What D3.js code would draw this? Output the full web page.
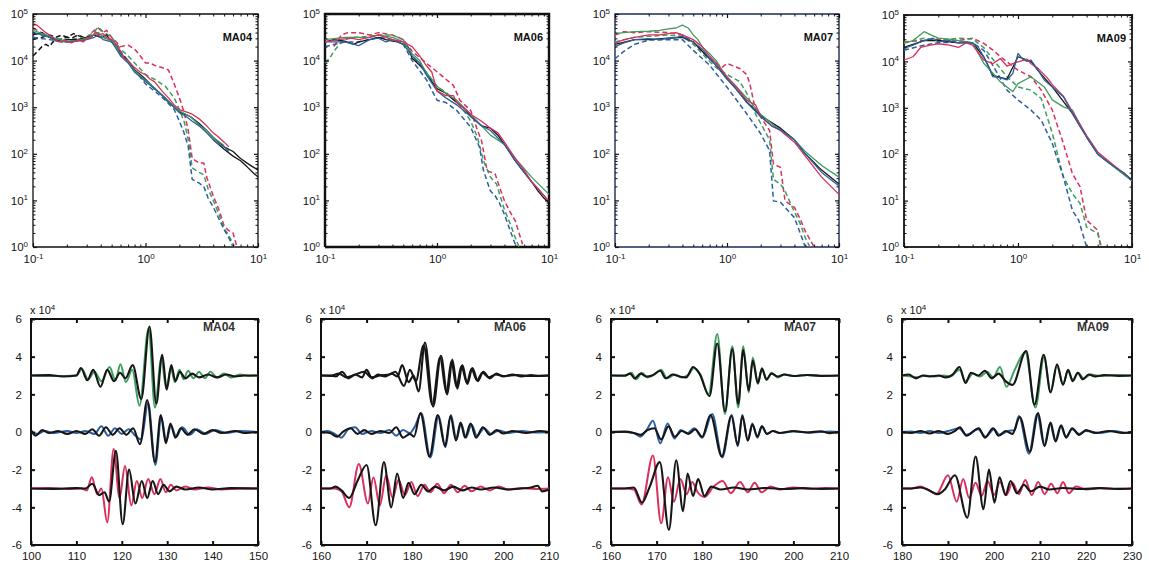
<!DOCTYPE html>
<html><head><meta charset="utf-8">
<script src="https://cdn.jsdelivr.net/npm/d3@7"></script>
<style>
body{margin:0;background:#fff}
svg{display:block}
</style>
</head><body>
<svg id="c" width="1149" height="569"></svg>
<script>
// ---------------- DATA ----------------
const stations = ["MA04", "MA06", "MA07", "MA09"];
// spectra: [frequency (Hz), log10 amplitude]
const s04BlackSolid = [[0.1,4.55],[0.12,4.6],[0.14,4.5],[0.16,4.45],[0.18,4.4],[0.2,4.45],[0.25,4.45],[0.3,4.5],[0.35,4.55],[0.4,4.5],[0.45,4.55],[0.5,4.4],[0.55,4.3],[0.6,4.15],[0.7,4.0],[0.8,3.8],[0.9,3.7],[1.0,3.6],[1.2,3.4],[1.5,3.2],[1.8,3.0],[2.0,2.9],[2.5,2.8],[3.0,2.65],[3.5,2.5],[4.0,2.35],[5.0,2.15],[6.0,2.05],[7.0,1.9],[8.0,1.8],[9.0,1.72],[10,1.65]];
const s04BlackSolid2 = [[4.0,2.3],[5.0,2.1],[6.0,1.95],[7.0,1.85],[8.0,1.72],[9.0,1.6],[10,1.5]];
const s04RedSolid = [[0.1,4.8],[0.11,4.75],[0.13,4.6],[0.15,4.5],[0.17,4.4],[0.2,4.42],[0.22,4.38],[0.25,4.45],[0.28,4.4],[0.3,4.48],[0.33,4.5],[0.36,4.62],[0.38,4.55],[0.42,4.58],[0.45,4.5],[0.5,4.45],[0.55,4.35],[0.6,4.2],[0.65,4.05],[0.7,4.0],[0.8,3.85],[0.9,3.75],[1.0,3.7],[1.1,3.6],[1.2,3.55],[1.4,3.35],[1.6,3.2],[1.8,3.05],[2.0,2.95],[2.3,2.9],[2.6,2.85],[3.0,2.75],[3.5,2.6],[4.0,2.45],[4.5,2.35],[5.0,2.25],[5.5,2.15]];
const s04BlueSolid = [[0.1,4.6],[0.12,4.55],[0.14,4.5],[0.16,4.42],[0.2,4.4],[0.25,4.42],[0.3,4.45],[0.35,4.5],[0.38,4.55],[0.42,4.45],[0.5,4.4],[0.55,4.25],[0.6,4.1],[0.7,3.95],[0.8,3.75],[0.9,3.65],[1.0,3.55],[1.2,3.4],[1.4,3.25],[1.6,3.1],[1.8,3.0],[2.0,2.88],[2.3,2.8],[2.6,2.7],[3.0,2.6],[3.5,2.45],[4.0,2.3],[4.5,2.2],[5.0,2.15],[5.5,2.05]];
const s04GreenSolid = [[0.1,4.65],[0.13,4.55],[0.17,4.45],[0.2,4.42],[0.25,4.43],[0.3,4.48],[0.35,4.55],[0.38,4.6],[0.42,4.5],[0.5,4.42],[0.55,4.3],[0.6,4.12],[0.7,3.98],[0.8,3.78],[1.0,3.58],[1.2,3.42],[1.5,3.2],[1.8,3.02],[2.0,2.92],[2.5,2.8],[3.0,2.62],[3.5,2.5],[4.0,2.35],[5.0,2.18]];
const s04RedDash = [[0.1,4.7],[0.13,4.55],[0.17,4.42],[0.2,4.45],[0.25,4.45],[0.3,4.5],[0.35,4.65],[0.38,4.7],[0.42,4.6],[0.45,4.65],[0.5,4.5],[0.55,4.4],[0.6,4.3],[0.7,4.33],[0.8,4.25],[0.9,4.1],[1.0,3.95],[1.1,3.95],[1.2,3.9],[1.4,3.85],[1.6,3.8],[1.8,3.5],[2.0,3.2],[2.2,2.9],[2.4,2.5],[2.6,1.9],[2.8,1.85],[3.0,1.8],[3.3,1.8],[3.5,1.5],[4.0,1.1],[4.5,0.8],[5.0,0.45],[5.5,0.35],[6.0,0.3],[6.5,0.0]];
const s04GreenDash = [[0.1,4.6],[0.14,4.5],[0.2,4.45],[0.3,4.5],[0.35,4.62],[0.38,4.72],[0.42,4.62],[0.5,4.5],[0.6,4.25],[0.7,4.1],[0.8,3.95],[1.0,3.7],[1.2,3.6],[1.5,3.45],[1.8,3.2],[2.0,2.95],[2.2,2.7],[2.4,2.3],[2.6,1.7],[3.0,1.6],[3.3,1.55],[3.6,1.25],[4.0,1.0],[4.5,0.7],[5.0,0.4],[5.5,0.25],[6.2,0.0]];
const s04BlueDash = [[0.1,4.5],[0.14,4.45],[0.2,4.4],[0.3,4.45],[0.35,4.55],[0.38,4.6],[0.42,4.5],[0.5,4.45],[0.6,4.2],[0.7,4.0],[0.8,3.8],[1.0,3.5],[1.2,3.35],[1.5,3.15],[1.8,2.95],[2.0,2.7],[2.2,2.45],[2.4,2.15],[2.6,1.45],[3.0,1.37],[3.3,1.3],[3.6,1.05],[4.0,0.86],[4.5,0.6],[5.0,0.37],[5.5,0.2],[6.0,0.0]];
const s04BlackDash = [[0.1,4.1],[0.11,4.2],[0.12,4.3],[0.13,4.35],[0.14,4.3],[0.15,4.4],[0.17,4.45],[0.2,4.5],[0.22,4.48],[0.25,4.55],[0.28,4.5]];
const s04BlackDash2 = [[0.1,4.45],[0.12,4.5],[0.14,4.55],[0.16,4.5],[0.18,4.55],[0.2,4.5],[0.23,4.58],[0.26,4.52]];

const s06BlackSolid = [[0.1,4.4],[0.12,4.45],[0.15,4.42],[0.18,4.35],[0.2,4.4],[0.25,4.45],[0.3,4.5],[0.35,4.45],[0.4,4.42],[0.45,4.4],[0.5,4.35],[0.55,4.3],[0.6,4.05],[0.7,3.9],[0.8,3.75],[0.9,3.55],[1.0,3.4],[1.2,3.3],[1.5,3.1],[1.8,2.95],[2.0,2.8],[2.5,2.6],[3.0,2.55],[3.5,2.4],[4.0,2.2],[5.0,1.85],[6.0,1.6],[7.0,1.4],[8.0,1.2],[9.0,1.05],[10,0.95]];
const s06RedSolid = [[0.1,4.4],[0.13,4.45],[0.17,4.48],[0.2,4.45],[0.25,4.5],[0.3,4.55],[0.35,4.5],[0.4,4.45],[0.5,4.4],[0.6,4.3],[0.7,4.1],[0.8,3.9],[0.9,3.75],[1.0,3.35],[1.2,3.25],[1.4,3.25],[1.5,3.1],[1.8,2.95],[2.0,2.85],[2.5,2.7],[3.0,2.55],[3.5,2.45],[4.0,2.25],[5.0,1.9],[6.0,1.65],[7.0,1.4],[8.0,1.25],[10,0.98]];
const s06BlueSolid = [[0.1,4.4],[0.15,4.4],[0.2,4.32],[0.25,4.45],[0.3,4.48],[0.35,4.4],[0.4,4.45],[0.5,4.35],[0.6,4.1],[0.7,3.95],[0.8,3.7],[1.0,3.35],[1.2,3.2],[1.5,3.05],[2.0,2.8],[2.5,2.6],[3.0,2.5],[4.0,2.2],[5.0,1.85],[7.0,1.4],[10,0.98]];
const s06GreenSolid = [[0.1,4.45],[0.15,4.5],[0.2,4.5],[0.25,4.5],[0.3,4.55],[0.4,4.5],[0.5,4.4],[0.6,4.15],[0.7,4.0],[0.8,3.75],[1.0,3.45],[1.2,3.3],[1.5,3.15],[2.0,2.85],[2.5,2.6],[3.0,2.4],[4.0,2.2],[5.0,1.9],[7.0,1.5],[10,1.13]];
const s06RedDash = [[0.12,4.3],[0.14,4.55],[0.16,4.6],[0.2,4.6],[0.25,4.55],[0.3,4.6],[0.4,4.55],[0.5,4.45],[0.6,4.2],[0.8,3.95],[1.0,3.76],[1.2,3.6],[1.4,3.47],[1.6,3.15],[2.0,2.93],[2.3,2.5],[2.5,2.28],[2.8,1.64],[3.3,1.57],[3.6,1.3],[4.0,0.99],[4.5,0.75],[5.0,0.56],[5.8,0.06]];
const s06GreenDash = [[0.1,3.95],[0.11,4.05],[0.12,4.2],[0.14,4.4],[0.17,4.5],[0.2,4.5],[0.3,4.55],[0.4,4.55],[0.5,4.45],[0.6,4.1],[0.8,3.75],[1.0,3.45],[1.3,3.25],[1.6,3.05],[2.0,2.7],[2.3,2.35],[2.6,1.85],[3.0,1.5],[3.4,1.35],[4.0,0.8],[4.5,0.5],[5.0,0.2],[5.4,0.0]];
const s06BlueDash = [[0.1,4.3],[0.15,4.4],[0.2,4.4],[0.3,4.5],[0.4,4.45],[0.5,4.35],[0.6,4.0],[0.8,3.6],[1.0,3.15],[1.2,3.1],[1.5,2.93],[2.0,2.57],[2.4,2.14],[2.6,1.64],[3.0,1.2],[3.3,1.1],[3.6,0.95],[4.0,0.7],[4.5,0.35],[5.0,0.06]];

const s07BlackSolid = [[0.1,4.35],[0.15,4.45],[0.2,4.45],[0.3,4.48],[0.4,4.5],[0.5,4.4],[0.6,4.2],[0.8,3.9],[1.0,3.62],[1.5,3.12],[2.0,2.82],[3.0,2.55],[4.0,2.3],[5.0,2.0],[7.0,1.65],[10,1.35]];
const s07RedSolid = [[0.1,4.37],[0.12,4.45],[0.15,4.5],[0.2,4.55],[0.25,4.55],[0.3,4.58],[0.35,4.6],[0.4,4.55],[0.5,4.45],[0.6,4.3],[0.7,4.1],[0.8,3.95],[1.0,3.65],[1.2,3.45],[1.5,3.15],[1.8,3.05],[2.0,2.8],[2.5,2.6],[3.0,2.5],[4.0,2.25],[5.0,1.95],[7.0,1.5],[10,1.13]];
const s07BlueSolid = [[0.1,4.3],[0.12,4.38],[0.15,4.45],[0.2,4.47],[0.25,4.45],[0.3,4.48],[0.35,4.5],[0.4,4.52],[0.5,4.4],[0.6,4.25],[0.7,4.05],[0.8,3.9],[1.0,3.6],[1.2,3.4],[1.5,3.1],[2.0,2.8],[2.5,2.6],[3.0,2.52],[4.0,2.3],[5.0,2.0],[7.0,1.6],[10,1.31]];
const s07GreenSolid = [[0.1,4.58],[0.12,4.6],[0.15,4.62],[0.2,4.63],[0.25,4.65],[0.3,4.68],[0.35,4.7],[0.4,4.76],[0.45,4.7],[0.5,4.55],[0.55,4.45],[0.6,4.3],[0.7,4.15],[0.8,4.0],[0.9,3.8],[1.0,3.65],[1.2,3.45],[1.5,3.2],[2.0,2.85],[2.5,2.65],[3.0,2.5],[4.0,2.3],[5.0,2.05],[7.0,1.75],[10,1.5]];
const s07RedDash = [[0.1,4.55],[0.12,4.62],[0.15,4.6],[0.2,4.62],[0.3,4.6],[0.4,4.55],[0.5,4.4],[0.6,4.2],[0.7,4.04],[0.8,3.95],[0.9,3.85],[1.0,3.94],[1.3,3.83],[1.5,3.7],[1.6,3.5],[1.8,2.93],[2.0,2.79],[2.4,2.5],[2.6,1.78],[3.0,1.71],[3.3,0.99],[4.0,0.85],[4.5,0.6],[5.0,0.34],[6.0,0.0]];
const s07GreenDash = [[0.1,4.4],[0.15,4.5],[0.2,4.52],[0.3,4.55],[0.4,4.52],[0.5,4.35],[0.6,4.15],[0.7,3.98],[0.8,3.85],[1.0,3.7],[1.3,3.55],[1.5,3.3],[1.8,2.85],[2.0,2.65],[2.4,2.3],[2.6,1.45],[3.0,1.35],[3.3,1.2],[4.0,0.75],[4.5,0.5],[5.0,0.2],[5.5,0.0]];
const s07BlueDash = [[0.1,4.04],[0.12,4.2],[0.15,4.35],[0.2,4.44],[0.3,4.45],[0.4,4.45],[0.5,4.22],[0.7,3.9],[1.0,3.43],[1.5,2.86],[2.0,2.43],[2.4,2.07],[2.6,0.99],[3.0,0.96],[3.3,0.85],[4.0,0.63],[4.5,0.3],[5.0,0.0]];

const s09BlackSolid = [[0.1,4.3],[0.15,4.45],[0.2,4.45],[0.3,4.4],[0.4,4.4],[0.5,4.1],[0.6,3.7],[0.8,3.62],[1.0,4.1],[1.3,4.0],[1.5,3.8],[2.0,3.45],[3.0,2.88],[4.0,2.37],[5.0,2.0],[7.0,1.73],[10,1.44]];
const s09RedSolid = [[0.1,4.03],[0.12,4.1],[0.14,4.3],[0.17,4.35],[0.2,4.38],[0.25,4.35],[0.3,4.3],[0.35,4.4],[0.4,4.35],[0.5,4.03],[0.6,3.95],[0.7,4.06],[0.8,3.9],[0.9,3.95],[1.0,3.99],[1.2,4.05],[1.3,3.95],[1.5,3.85],[1.8,3.65],[2.0,3.5],[2.5,3.25],[3.0,2.92],[4.0,2.4],[5.0,2.05],[7.0,1.75],[10,1.45]];
const s09BlueSolid = [[0.1,4.28],[0.12,4.35],[0.15,4.45],[0.18,4.5],[0.2,4.42],[0.25,4.45],[0.3,4.4],[0.35,4.42],[0.4,4.4],[0.45,4.3],[0.5,4.1],[0.55,3.9],[0.6,3.67],[0.7,3.65],[0.8,3.6],[0.9,3.74],[1.0,4.17],[1.1,4.05],[1.2,4.0],[1.3,4.03],[1.5,3.81],[1.7,3.6],[2.0,3.45],[2.5,3.24],[3.0,2.88],[3.5,2.6],[4.0,2.37],[5.0,2.01],[6.0,1.85],[7.0,1.73],[8.5,1.6],[10,1.44]];
const s09GreenSolid = [[0.1,4.39],[0.12,4.45],[0.15,4.64],[0.18,4.55],[0.2,4.5],[0.25,4.48],[0.3,4.45],[0.4,4.4],[0.5,3.96],[0.6,3.75],[0.7,3.56],[0.8,3.45],[0.9,3.35],[1.0,3.52],[1.3,3.67],[1.5,3.55],[1.7,3.45],[2.0,3.17],[2.5,3.02],[3.0,2.95],[4.0,2.37],[5.0,2.0],[7.0,1.72],[10,1.42]];
const s09RedDash = [[0.1,4.42],[0.15,4.45],[0.2,4.48],[0.3,4.45],[0.4,4.5],[0.5,4.39],[0.6,4.25],[0.7,4.1],[1.0,3.81],[1.3,3.67],[1.6,3.38],[2.0,2.95],[2.5,2.23],[3.0,1.58],[3.5,1.3],[4.0,0.58],[5.0,0.36],[5.3,0.0]];
const s09GreenDash = [[0.1,4.4],[0.15,4.5],[0.2,4.45],[0.3,4.5],[0.4,4.48],[0.5,4.3],[0.6,4.05],[0.8,3.67],[1.0,3.45],[1.3,3.38],[1.6,3.2],[2.0,2.45],[2.5,1.51],[3.0,1.15],[3.5,0.94],[4.0,0.43],[5.0,0.29],[5.4,0.0]];
const s09BlueDash = [[0.1,4.24],[0.15,4.35],[0.2,4.4],[0.3,4.42],[0.4,4.4],[0.5,4.24],[0.6,3.92],[0.8,3.38],[1.0,3.17],[1.3,2.95],[1.6,2.73],[2.0,2.23],[2.5,1.51],[3.0,0.79],[3.4,0.58],[4.0,0.0]];

// waveforms: [time (s), displacement x 10^4]
const w04TopGreen = [[100,3.0],[105,2.97],[110,3.0],[111.2,3.35],[112.6,2.8],[114,3.2],[115.5,2.7],[117.3,3.45],[118.6,2.75],[119.7,3.6],[120.9,2.65],[122.3,3.3],[123.9,1.4],[125.9,5.5],[127.3,1.3],[128.7,3.9],[129.8,2.3],[130.8,3.4],[131.7,2.65],[132.7,3.3],[133.6,2.8],[134.6,3.25],[135.8,2.85],[137,3.2],[138.3,2.85],[139.5,3.2],[141,2.9],[142.5,3.1],[144,2.9],[146,3.05],[148,2.98],[150,3.0]];
const w04TopBlack = [[100,3.0],[104,3.02],[107,2.95],[110,3.0],[111,3.4],[112.4,2.75],[113.7,3.3],[115.3,2.4],[116.8,3.3],[118.3,2.7],[119.6,3.15],[120.8,2.85],[122.4,3.55],[124.3,1.75],[126.1,5.6],[127.6,1.5],[128.9,4.1],[129.9,2.25],[130.9,3.55],[131.8,2.7],[132.8,3.2],[134,2.85],[135.5,3.1],[137,2.9],[139,3.05],[141,2.9],[143,3.05],[145,2.95],[147,3.0],[150,3.0]];
const w04MidBlue = [[100,0],[101.5,-0.1],[103,0.05],[105,-0.05],[108,0.05],[110,-0.05],[112,0.05],[114,-0.1],[115.5,0.3],[117,-0.2],[118.5,0.2],[120,-0.1],[121.5,0.15],[123,-0.2],[124.3,-0.4],[125.8,1.55],[127.4,-1.75],[128.7,0.8],[129.8,-0.5],[130.8,0.35],[132,-0.25],[133.3,0.25],[135,-0.15],[136.5,0.15],[138.5,-0.1],[140.5,0.1],[143,-0.05],[146,0.05],[150,0]];
const w04MidBlack = [[100,0.1],[101,-0.2],[102.5,0.1],[104,-0.05],[106,0.05],[108,-0.1],[110,0.05],[112,-0.1],[113.5,0.15],[115,-0.2],[116.5,0.25],[118,-0.15],[119.5,0.2],[121,-0.15],[122.5,0.2],[124,-0.65],[125.6,1.7],[127.3,-1.6],[128.6,0.9],[129.7,-0.6],[130.7,0.45],[131.8,-0.3],[133,0.2],[134.5,-0.15],[136,0.15],[138,-0.1],[140,0.1],[142,-0.05],[145,0.05],[147,-0.05],[150,0]];
const w04BotRed = [[100,-3.0],[104,-2.98],[108,-3.02],[111,-3.0],[112.3,-3.1],[113.4,-2.4],[114.6,-3.3],[115.5,-3.0],[116.8,-4.8],[118.2,-0.9],[119.5,-3.5],[120.7,-1.8],[122.1,-3.9],[123.3,-2.6],[124.5,-3.5],[125.8,-2.5],[127.2,-3.3],[128.5,-2.5],[129.7,-3.2],[130.8,-2.8],[132,-3.1],[134,-2.9],[136,-3.05],[139,-2.95],[142,-3.05],[146,-3.0],[150,-3.0]];
const w04BotBlack = [[100,-3.0],[105,-3.02],[110,-2.98],[112,-3.0],[113.5,-2.75],[115,-3.35],[116.2,-3.2],[117.2,-3.7],[118.7,-1.0],[120.2,-4.9],[121.6,-2.0],[123,-3.8],[124.4,-2.6],[125.6,-3.5],[126.8,-2.6],[128,-3.3],[129.2,-2.8],[130.5,-3.15],[132,-2.9],[134,-3.05],[137,-2.95],[140,-3.05],[144,-2.98],[150,-3.0]];

const w06TopBlackB = [[160,3.0],[162,2.98],[164,3.1],[165.5,2.9],[167,3.0],[169.5,3.2],[171,2.9],[173,3.0],[175,3.05],[176.3,3.2],[178.2,2.45],[179.5,3.3],[180.8,2.7],[182.5,4.6],[184.4,1.45],[186.1,3.95],[187.5,2.1],[188.6,3.75],[189.7,2.4],[190.8,3.5],[192,2.6],[193,3.35],[194.2,2.75],[195.4,3.15],[196.8,2.9],[198.3,3.05],[200,2.97],[203,3.03],[206,2.97],[210,3.0]];
const w06TopBlack = [[160,3.0],[162,3.0],[163.3,2.95],[164.6,3.2],[166,2.85],[167.5,3.05],[169,2.9],[170,3.3],[171.2,2.85],[172.5,3.05],[174,2.95],[175.5,3.1],[176.8,2.95],[177.8,3.55],[179.2,2.65],[180.3,3.0],[181.4,2.15],[182.8,4.75],[184.6,1.35],[186.3,4.05],[187.7,2.0],[188.8,3.85],[189.9,2.3],[191,3.55],[192.1,2.55],[193.2,3.4],[194.4,2.7],[195.6,3.2],[197,2.85],[198.5,3.1],[200,2.95],[202,3.05],[204,2.95],[206,3.02],[208,2.98],[210,3.0]];
const w06MidBlue = [[160,0],[161.5,0.05],[163,-0.1],[164.5,-0.3],[166,0.15],[167.5,0.25],[169,-0.1],[171,0.05],[173,-0.05],[175,0.1],[176.5,-0.2],[178,0.1],[179.5,-0.05],[180.6,0.3],[182,1.0],[184,-1.35],[185.8,0.85],[187.3,-0.8],[188.5,0.9],[189.7,-0.4],[190.7,0.45],[191.8,-0.3],[193,0.4],[194.2,-0.2],[195.8,0.2],[197.3,-0.1],[199,0.08],[201,-0.05],[204,0.05],[207,-0.03],[210,0]];
const w06MidBlack = [[160,0],[162,-0.05],[163.5,-0.25],[165,0.05],[166.5,0.2],[168,-0.1],[169.5,0.1],[171,-0.1],[173,0.05],[175,-0.05],[176.5,0.25],[178,-0.3],[179.5,-0.1],[180.4,-0.25],[181.8,1.0],[183.8,-1.3],[185.6,0.9],[187.2,-0.75],[188.4,0.85],[189.6,-0.45],[190.6,0.5],[191.6,-0.3],[192.8,0.45],[194,-0.3],[195.5,0.25],[197,-0.15],[198.5,0.1],[200,-0.08],[202,0.05],[205,-0.05],[208,0.05],[210,0]];
const w06BotRed = [[160,-3.0],[163,-3.0],[164.5,-3.15],[166.2,-4.0],[168.3,-1.7],[170.3,-3.8],[171.5,-2.4],[172.9,-3.9],[174.3,-2.3],[175.7,-3.5],[177,-2.55],[178.4,-3.35],[179.8,-2.65],[181.2,-3.4],[182.7,-2.8],[184,-3.2],[185.5,-2.75],[187,-3.25],[188.5,-2.8],[190,-3.2],[191.5,-2.85],[193,-3.15],[195,-2.9],[197,-3.1],[199,-2.9],[201,-3.05],[204,-2.98],[207,-3.02],[210,-3.0]];
const w06BotBlack = [[160,-3.0],[162,-3.0],[163.2,-2.9],[164.5,-3.1],[166.2,-3.5],[168,-2.6],[170,-1.75],[172,-4.95],[173.8,-1.6],[175.4,-4.0],[176.7,-2.2],[178,-3.5],[179.2,-2.7],[180.5,-3.3],[182,-2.8],[183.5,-3.15],[185,-2.9],[187,-3.1],[189,-2.9],[191,-3.1],[193,-2.95],[195,-3.05],[198,-2.95],[201,-3.05],[204,-3.0],[206,-2.95],[207.5,-2.85],[208.5,-3.15],[210,-3.05]];

const w07TopGreen = [[160,3.0],[163,2.97],[164.5,3.15],[165.5,2.8],[166.8,3.15],[168,2.9],[169.5,3.05],[171,3.3],[172.3,2.85],[174,3.05],[175.5,2.9],[177,3.05],[178.2,3.4],[179.6,3.05],[181.4,2.0],[183.3,5.2],[185,0.95],[186.6,4.55],[187.9,1.3],[189,4.55],[190.2,2.1],[191.1,3.95],[192.2,2.55],[193.1,3.4],[194.1,2.75],[195.2,3.15],[196.6,2.9],[198,3.05],[200,2.97],[203,3.03],[206,2.98],[210,3.0]];
const w07TopBlack = [[160,3.0],[163,3.0],[164.2,3.1],[165.2,2.85],[166.5,3.1],[167.8,2.95],[169,3.0],[170.8,3.25],[172,2.85],[173.5,3.05],[175,2.95],[176.5,2.9],[178,3.45],[179.4,3.1],[181.6,1.9],[183.3,4.7],[185,1.1],[186.6,4.4],[187.9,1.5],[189,4.35],[190.2,2.2],[191.1,3.8],[192.2,2.6],[193.1,3.35],[194.1,2.8],[195.2,3.1],[196.6,2.95],[198,3.05],[200,2.97],[203,3.03],[206,2.98],[210,3.0]];
const w07MidBlue = [[160,0],[163,0],[165,-0.05],[166.4,-0.25],[167.8,0.1],[169.2,0.6],[170.8,-0.6],[172.4,0.45],[173.9,-0.35],[175.3,0.1],[176.8,-0.05],[178.2,0.2],[180,-0.3],[182.2,0.95],[184.4,-1.35],[186.5,0.9],[187.8,-0.75],[188.8,0.9],[190,-0.45],[191,0.45],[192.1,-0.3],[193.1,0.3],[194.2,-0.1],[195.5,0.05],[197,-0.05],[200,0.03],[204,-0.03],[208,0.02],[210,0]];
const w07MidBlack = [[160,0],[163,0.02],[165,-0.05],[166.5,-0.15],[168,0.1],[169.5,0.2],[171,-0.4],[172.6,0.3],[174,-0.25],[175.5,0.05],[177,-0.1],[178.5,0.15],[180,-0.25],[181.8,0.9],[184.3,-1.3],[186.4,0.85],[187.8,-0.7],[188.8,0.85],[190,-0.45],[191,0.4],[192.1,-0.25],[193.1,0.3],[194.2,-0.1],[195.5,0.05],[197,-0.05],[200,0.05],[203,-0.03],[206,0.04],[208,-0.06],[210,0]];
const w07BotRed = [[160,-3.0],[163,-3.0],[165,-3.05],[166.7,-3.85],[169.2,-1.25],[171,-4.85],[172.5,-2.4],[173.8,-3.7],[175.2,-2.5],[176.6,-3.3],[177.8,-2.65],[179,-3.2],[180.5,-3.45],[182.5,-2.9],[184.5,-2.6],[186.3,-3.25],[188.3,-2.65],[190,-3.2],[191.5,-2.7],[193,-3.2],[195,-2.9],[197,-3.05],[200,-2.95],[204,-3.02],[207,-2.98],[210,-3.0]];
const w07BotBlack = [[160,-3.0],[163,-3.0],[165,-2.95],[166.8,-3.75],[168.5,-2.9],[170.7,-1.6],[172.7,-5.2],[174.3,-1.5],[175.8,-4.2],[176.8,-2.2],[178,-3.4],[179.1,-2.5],[180.5,-3.4],[182,-2.9],[184,-3.05],[187,-2.95],[190,-3.05],[194,-2.97],[198,-3.03],[202,-2.98],[206,-3.02],[210,-3.0]];

const w09TopGreen = [[180,3.0],[182,2.95],[183.5,2.9],[185,3.0],[187,2.95],[189,3.0],[190.5,2.95],[192.5,3.3],[193.8,2.7],[195.5,3.1],[197,2.95],[198.5,3.2],[199.8,2.9],[201.3,3.45],[202.7,2.4],[204.5,3.3],[206.8,4.25],[209,1.3],[210.9,4.0],[212.3,2.15],[213.7,3.5],[215,2.55],[216.1,3.25],[217.2,2.75],[218.3,3.15],[219.5,2.85],[221,3.05],[223,2.97],[226,3.02],[230,3.0]];
const w09TopBlack = [[180,3.0],[181.5,3.05],[183,2.85],[184.5,3.0],[186,2.95],[188,3.0],[189.5,2.9],[191,3.05],[192.5,3.45],[193.8,2.6],[195,3.15],[196.6,3.0],[198,3.25],[199.5,2.85],[201,3.1],[202.5,2.7],[204,2.5],[207,4.3],[208.8,1.45],[210.8,4.1],[212.3,2.1],[213.7,3.6],[215,2.5],[216.1,3.3],[217.1,2.7],[218.2,3.15],[219.3,2.8],[220.6,3.05],[222,2.95],[224,3.02],[227,2.98],[230,3.0]];
const w09MidBlue = [[180,0],[182,0.02],[184,-0.05],[186,0.05],[188,-0.05],[190,0.05],[192.4,0.2],[194,-0.15],[196.5,0.15],[198.2,-0.25],[200,0.15],[201.2,-0.15],[203,0.05],[204.5,0.1],[205.4,0.85],[207.6,-1.15],[209.4,0.95],[210.9,-0.7],[212.2,0.45],[213.3,-0.45],[214.5,0.3],[215.6,-0.25],[217,0.15],[218.5,-0.1],[220,0.05],[223,-0.05],[226,0.05],[229,-0.05],[230,0]];
const w09MidBlack = [[180,0],[182,-0.05],[184,0.05],[186,-0.08],[188,0.05],[190,-0.1],[191.5,0.05],[192.6,0.25],[194,-0.2],[196.7,0.2],[198,-0.3],[199.8,0.2],[201,-0.2],[202.5,0.05],[204,-0.1],[205.6,0.8],[207.8,-1.05],[209.6,1.0],[211,-0.75],[212.3,0.5],[213.4,-0.5],[214.6,0.35],[215.7,-0.3],[217,0.2],[218.5,-0.15],[220,0.1],[222,-0.05],[225,0.05],[228,-0.05],[230,0]];
const w09BotRed = [[180,-3.0],[182,-3.0],[184,-2.9],[185.5,-3.05],[187.5,-3.3],[190,-2.3],[191.9,-3.7],[193.3,-2.5],[194.6,-3.5],[196,-2.7],[197.3,-3.4],[198.6,-2.6],[200,-3.35],[201.3,-2.65],[202.7,-3.35],[204,-2.7],[205.4,-3.3],[206.8,-2.55],[208.2,-3.35],[209.6,-2.65],[211,-3.3],[212.4,-2.75],[213.8,-3.25],[215,-2.65],[216.3,-3.25],[217.8,-2.9],[220,-3.05],[223,-2.98],[226,-3.02],[230,-3.0]];
const w09BotBlack = [[180,-3.0],[182,-3.0],[184,-2.95],[185.5,-3.05],[187.8,-3.3],[189.3,-3.05],[191.5,-2.3],[194.2,-4.55],[196,-1.3],[197.7,-4.1],[198.9,-2.0],[200.1,-3.75],[201.2,-2.4],[202.5,-3.35],[203.6,-2.6],[205,-3.25],[206.5,-2.8],[208,-3.15],[210,-2.9],[212,-3.05],[215,-2.97],[219,-3.03],[223,-2.98],[227,-3.02],[230,-3.0]];

// axis ticks
const specFreqTicks = [0.1, 1, 10];
const specFreqExp = ["-1", "0", "1"];
const specAmpTicks = [1, 10, 100, 1000, 10000, 100000];
const specAmpExp = ["0", "1", "2", "3", "4", "5"];
const waveTimeTicks = [
  [100, 110, 120, 130, 140, 150],
  [160, 170, 180, 190, 200, 210],
  [160, 170, 180, 190, 200, 210],
  [180, 190, 200, 210, 220, 230]
];
const waveAmpTicks = [-6, -4, -2, 0, 2, 4, 6];

// ---------------- LAYOUT / STYLE ----------------
const COL = {black: "#161616", green: "#3f9d5e", blue: "#2e5f9f", red: "#d9305c"};
const FONT = '"Liberation Sans",Arial,sans-serif';
const topFrames = [[33, 258, 14, 247], [325, 549, 14, 247], [615, 839, 14, 247], [904, 1132, 15, 247]];
const botFrames = [[31, 258, 319, 545], [321, 549, 319, 545], [611, 839, 319, 545], [902, 1132, 319, 545]];
// frame stroke per panel (top row / bottom row)
const topFrameStyle = [["#111111", 1.3], ["#111111", 2.4], ["#1e2a55", 1.4], ["#2a2a2a", 2.0]];
const botFrameStyle = [["#111111", 2.0], ["#111111", 2.0], ["#111111", 2.0], ["#111111", 2.0]];

const spectra = [
  [[s04BlackDash, "black", 1], [s04BlackDash2, "black", 1], [s04RedDash, "red", 1], [s04GreenDash, "green", 1], [s04BlueDash, "blue", 1],
   [s04BlackSolid, "black", 0], [s04BlackSolid2, "black", 0], [s04GreenSolid, "green", 0], [s04BlueSolid, "blue", 0], [s04RedSolid, "red", 0]],
  [[s06RedDash, "red", 1], [s06GreenDash, "green", 1], [s06BlueDash, "blue", 1],
   [s06BlackSolid, "black", 0], [s06GreenSolid, "green", 0], [s06BlueSolid, "blue", 0], [s06RedSolid, "red", 0]],
  [[s07RedDash, "red", 1], [s07GreenDash, "green", 1], [s07BlueDash, "blue", 1],
   [s07BlackSolid, "black", 0], [s07GreenSolid, "green", 0], [s07RedSolid, "red", 0], [s07BlueSolid, "blue", 0]],
  [[s09RedDash, "red", 1], [s09GreenDash, "green", 1], [s09BlueDash, "blue", 1],
   [s09BlackSolid, "black", 0], [s09GreenSolid, "green", 0], [s09RedSolid, "red", 0], [s09BlueSolid, "blue", 0]]
];
const waves = [
  [[w04TopGreen, "green"], [w04MidBlue, "blue"], [w04BotRed, "red"], [w04TopBlack, "black"], [w04MidBlack, "black"], [w04BotBlack, "black"]],
  [[w06TopBlackB, "black"], [w06MidBlue, "blue"], [w06BotRed, "red"], [w06TopBlack, "black"], [w06MidBlack, "black"], [w06BotBlack, "black"]],
  [[w07TopGreen, "green"], [w07MidBlue, "blue"], [w07BotRed, "red"], [w07TopBlack, "black"], [w07MidBlack, "black"], [w07BotBlack, "black"]],
  [[w09TopGreen, "green"], [w09MidBlue, "blue"], [w09BotRed, "red"], [w09TopBlack, "black"], [w09MidBlack, "black"], [w09BotBlack, "black"]]
];

// ---------------- DRAW ----------------
const svg = d3.select("#c");

function supLabel(sel, base, exp, anchor) {
  sel.text(null).attr("text-anchor", anchor);
  sel.append("tspan").text(base);
  sel.append("tspan").attr("dy", "-0.55em").attr("font-size", "8px").text(exp);
}

function styleAxis(g, w) {
  g.select(".domain").remove();
  g.selectAll(".tick line").attr("stroke", "#111111").attr("stroke-width", w);
  g.selectAll(".tick text").attr("font-size", "11.5px").attr("fill", "#151515").attr("font-family", FONT);
  return g;
}

function minorLog(lo, hi) {
  const out = [];
  for (let e = lo; e < hi; e++) for (let k = 2; k <= 9; k++) out.push(k * Math.pow(10, e));
  return out;
}

// frame as a closed path through the four corners of the scale ranges
function frame(g, x, y, color, w) {
  const [xa, xb] = x.range(), [ya, yb] = y.range();
  const corners = [[xa, ya], [xb, ya], [xb, yb], [xa, yb], [xa, ya]];
  g.append("path").attr("d", d3.line()(corners))
    .attr("fill", "none").attr("stroke", color).attr("stroke-width", w).attr("stroke-linejoin", "miter");
}

// Top row: spectra
topFrames.forEach((fr, i) => {
  const [x0, x1, y0, y1] = fr;
  const x = d3.scaleLog().domain([0.1, 10]).range([x0, x1]);
  const y = d3.scaleLog().domain([1, 1e5]).range([y1, y0]);
  const g = svg.append("g");
  const line = d3.line().x(d => x(d[0])).y(d => y(Math.pow(10, d[1])));
  frame(g, x, y, topFrameStyle[i][0], topFrameStyle[i][1]);
  spectra[i].forEach(([data, c, dashed]) => {
    g.append("path").attr("d", line(data)).attr("fill", "none")
      .attr("stroke", COL[c]).attr("stroke-width", dashed ? 1.5 : 1.3)
      .attr("stroke-dasharray", dashed ? "5,3" : null)
      .attr("stroke-linejoin", "round");
  });

  const xb = g.append("g").attr("transform", `translate(0,${y1})`)
    .call(d3.axisBottom(x).tickValues(specFreqTicks).tickSize(-4).tickPadding(8));
  styleAxis(xb, 1.2);
  xb.selectAll(".tick text").each(function(d, k) { supLabel(d3.select(this), "10", specFreqExp[k], "middle"); });
  const yl = g.append("g").attr("transform", `translate(${x0},0)`)
    .call(d3.axisLeft(y).tickValues(specAmpTicks).tickSize(-4).tickPadding(5));
  styleAxis(yl, 1.2);
  yl.selectAll(".tick text").each(function(d, k) { supLabel(d3.select(this), "10", specAmpExp[k], "end"); });
  styleAxis(g.append("g").attr("transform", `translate(0,${y0})`).call(d3.axisTop(x).tickValues(specFreqTicks).tickSize(-4).tickFormat(() => "")), 1.2);
  styleAxis(g.append("g").attr("transform", `translate(${x1},0)`).call(d3.axisRight(y).tickValues(specAmpTicks).tickSize(-4).tickFormat(() => "")), 1.2);
  const mx = minorLog(-1, 1), my = minorLog(0, 5);
  styleAxis(g.append("g").attr("transform", `translate(0,${y1})`).call(d3.axisBottom(x).tickValues(mx).tickSize(-2.5).tickFormat(() => "")), 1);
  styleAxis(g.append("g").attr("transform", `translate(0,${y0})`).call(d3.axisTop(x).tickValues(mx).tickSize(-2.5).tickFormat(() => "")), 1);
  styleAxis(g.append("g").attr("transform", `translate(${x0},0)`).call(d3.axisLeft(y).tickValues(my).tickSize(-2.5).tickFormat(() => "")), 1);
  styleAxis(g.append("g").attr("transform", `translate(${x1},0)`).call(d3.axisRight(y).tickValues(my).tickSize(-2.5).tickFormat(() => "")), 1);

  g.append("text").attr("x", x1 - 6).attr("y", y0 + 27).attr("text-anchor", "end")
    .attr("font-family", FONT).attr("fill", "#111")
    .attr("font-size", "11px").attr("font-weight", "bold").text(stations[i]);
});

// Bottom row: waveforms
botFrames.forEach((fr, i) => {
  const [x0, x1, y0, y1] = fr;
  const tt = waveTimeTicks[i];
  const x = d3.scaleLinear().domain([tt[0], tt[tt.length - 1]]).range([x0, x1]);
  const y = d3.scaleLinear().domain([-6, 6]).range([y1, y0]);
  const g = svg.append("g");
  const line = d3.line().curve(d3.curveMonotoneX).x(d => x(d[0])).y(d => y(d[1]));
  frame(g, x, y, botFrameStyle[i][0], botFrameStyle[i][1]);
  waves[i].forEach(([data, c]) => {
    g.append("path").attr("d", line(data)).attr("fill", "none")
      .attr("stroke", COL[c]).attr("stroke-width", c === "black" ? 2.1 : 2.0)
      .attr("stroke-linejoin", "round");
  });

  const xb = g.append("g").attr("transform", `translate(0,${y1})`)
    .call(d3.axisBottom(x).tickValues(tt).tickSize(-4).tickPadding(7).tickFormat(d => String(d)));
  styleAxis(xb, 2);
  const yl = g.append("g").attr("transform", `translate(${x0},0)`)
    .call(d3.axisLeft(y).tickValues(waveAmpTicks).tickSize(-4).tickPadding(9).tickFormat(d => String(d)));
  styleAxis(yl, 2);
  styleAxis(g.append("g").attr("transform", `translate(0,${y0})`).call(d3.axisTop(x).tickValues(tt).tickSize(-4).tickFormat(() => "")), 2);
  styleAxis(g.append("g").attr("transform", `translate(${x1},0)`).call(d3.axisRight(y).tickValues(waveAmpTicks).tickSize(-4).tickFormat(() => "")), 2);

  const t = g.append("text").attr("x", x0 - 1).attr("y", y0 - 5)
    .attr("font-family", FONT).attr("fill", "#111").attr("font-size", "11px");
  t.append("tspan").text("x 10");
  t.append("tspan").attr("dy", "-0.55em").attr("font-size", "8px").text("4");
  g.append("text").attr("x", x1 - 23).attr("y", y0 + 12).attr("text-anchor", "end")
    .attr("font-family", FONT).attr("fill", "#333")
    .attr("font-size", "12px").attr("font-weight", "bold").text(stations[i]);
});
</script>
</body></html>
